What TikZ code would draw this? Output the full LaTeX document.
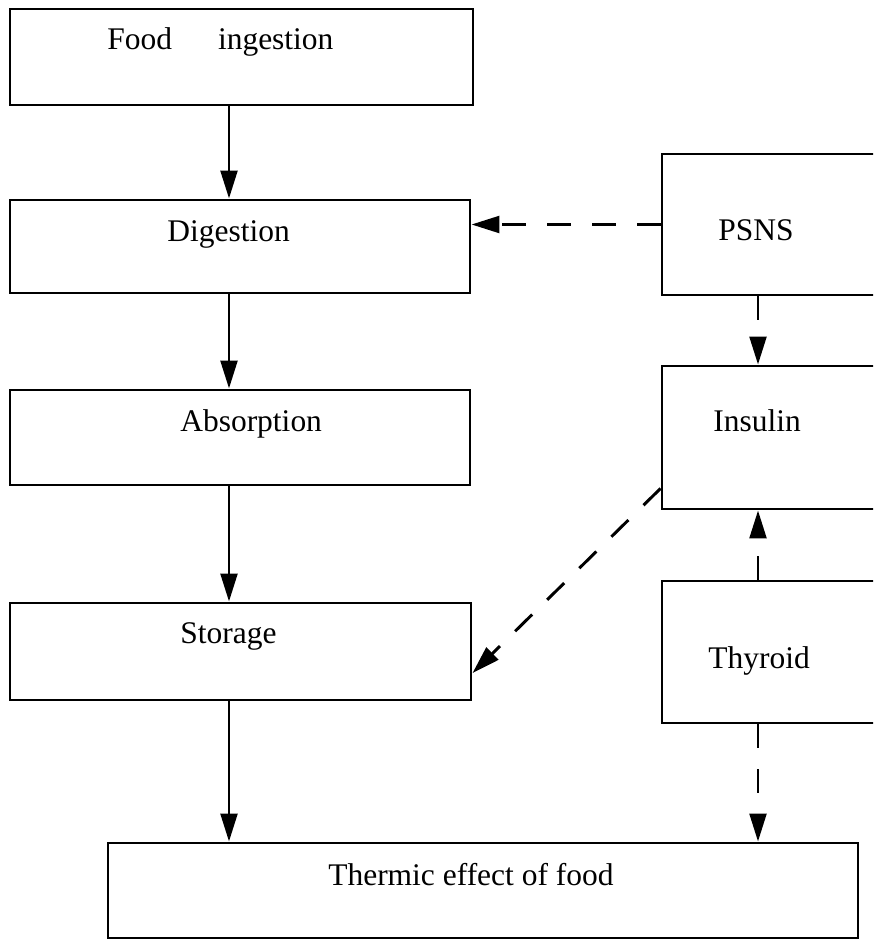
\documentclass[tikz,border=0pt]{standalone}
\usepackage{fontspec}
\setmainfont{Liberation Serif}
\usetikzlibrary{
  arrows.meta,
  positioning,
  calc
}
\tikzset{
  stagebox/.style={
    draw, line width=2.1pt, inner sep=0pt, minimum width=11.5cm
  },
  glandbox/.style={stagebox, minimum width=5.45cm},
  boxtext/.style={
    anchor=base west, inner sep=0pt, font=\fontsize{22.4}{26}\selectfont
  },
  pathway/.style={-{Triangle[length=7mm, width=4.2mm]}, line width=2.1pt},
  control/.style={pathway, dash pattern=on 17pt off 15pt}
}

\begin{document}
\begin{tikzpicture}
  \useasboundingbox (0,0) rectangle (21.825,-23.475);
  \clip (0,0) rectangle (21.825,-23.475);

  % columns for the vertical connectors
  \coordinate (lcol) at (5.725,0);
  \coordinate (rcol) at (18.95,0);

  % digestive chain
  \node[stagebox, minimum width=11.575cm, minimum height=2.4cm] (food) at (6.0375,-1.425) {};
  \node[stagebox, minimum height=2.325cm] (dig) at (6.0,-6.1625) {};
  \node[stagebox, minimum height=2.375cm] (abs) at (6.0,-10.9375) {};
  \node[stagebox, minimum width=11.525cm, minimum height=2.425cm] (stor) at (6.0125,-16.2875) {};
  \node[stagebox, minimum width=18.75cm, minimum height=2.375cm] (tef) at (12.075,-22.2625) {};

  % regulators
  \node[glandbox, minimum height=3.525cm] (psns) at (19.275,-5.6125) {};
  \node[glandbox, minimum height=3.575cm] (ins) at (19.275,-10.9375) {};
  \node[glandbox, minimum height=3.55cm] (thy) at (19.275,-16.3) {};

  \node[boxtext] (foodtxt) at (2.675,-1.25) {Food\hspace{1.15cm}ingestion};
  \node[boxtext] (digtxt) at (4.175,-6.05) {Digestion};
  \node[boxtext] (abstxt) at (4.5,-10.775) {Absorption};
  \node[boxtext] (stortxt) at (4.5,-16.075) {Storage};
  \node[boxtext] (teftxt) at (8.2,-22.125) {Thermic effect of food};
  \node[boxtext] (psnstxt) at (17.95,-6.025) {PSNS};
  \node[boxtext] (instxt) at (17.825,-10.775) {Insulin};
  \node[boxtext] (thytxt) at (17.7,-16.7) {Thyroid};

  \draw[pathway] (food.south -| lcol) -- (dig.north -| lcol);
  \draw[pathway] (dig.south -| lcol) -- (abs.north -| lcol);
  \draw[pathway] (abs.south -| lcol) -- (stor.north -| lcol);
  \draw[pathway] (stor.south -| lcol) -- (tef.north -| lcol);

  \draw[control] (psns.west) -- (psns.west -| dig.east);
  \draw[control] (psns.south -| rcol) -- (ins.north -| rcol);
  \draw[control] ([yshift=0.55cm]ins.south west) -- ([yshift=-0.54cm]stor.east);
  \draw[control] (thy.north -| rcol) -- (ins.south -| rcol);
  \draw[control] (thy.south -| rcol) -- (tef.north -| rcol);
\end{tikzpicture}
\end{document}
